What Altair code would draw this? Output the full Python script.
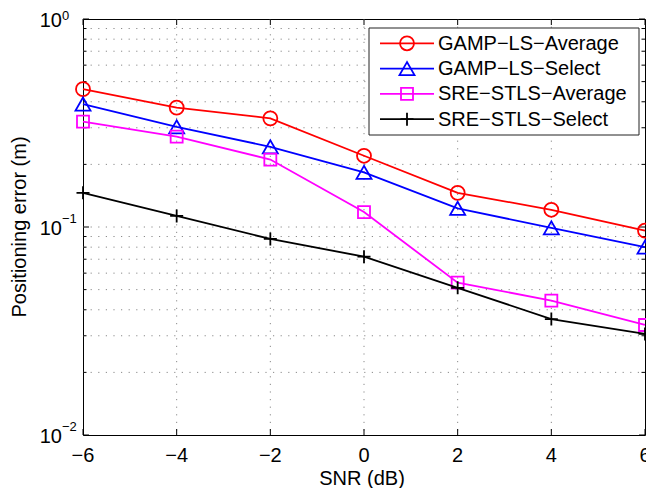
import altair as alt
import pandas as pd

# ---------------- data ----------------
snr = [-6, -4, -2, 0, 2, 4, 6]
series_names = ["GAMP−LS−Average", "GAMP−LS−Select", "SRE−STLS−Average", "SRE−STLS−Select"]
gamp_ls_average = [0.46, 0.375, 0.333, 0.220, 0.146, 0.121, 0.096]
gamp_ls_select = [0.39, 0.303, 0.243, 0.183, 0.123, 0.099, 0.080]
sre_stls_average = [0.321, 0.272, 0.211, 0.118, 0.054, 0.0443, 0.0338]
sre_stls_select = [0.146, 0.113, 0.0876, 0.072, 0.051, 0.0361, 0.0306]
x_ticks = [-6, -4, -2, 0, 2, 4, 6]
y_decades = [0.01, 0.1, 1.0]
y_exponents = ["−2", "−1", "0"]
y_minor = [k * 10.0 ** e for e in (-2, -1) for k in range(2, 10)]

series_values = [gamp_ls_average, gamp_ls_select, sre_stls_average, sre_stls_select]
colors = ["#ff0000", "#0000ff", "#ff00ff", "#000000"]
shapes = ["circle", "triangle-up", "square", "M-1,0H1M0,-1V1"]
sizes = [196, 225, 144, 169]

W, H = 562, 416
FONT = "Liberation Sans"
FS = 20
LW = 1.8

xs = alt.Scale(domain=[-6, 6], nice=False, zero=False)
ys = alt.Scale(type="log", domain=[0.01, 1], nice=False)

def X(f="x"):
    return alt.X(f"{f}:Q", scale=xs, axis=None)

def Y(f="y"):
    return alt.Y(f"{f}:Q", scale=ys, axis=None)

one = alt.Data(values=[{}])
layers = []

# grid
gx = pd.DataFrame({"x": [v for v in x_ticks if -6 < v < 6]})
gy = pd.DataFrame({"y": [0.1] + y_minor})
grid_style = dict(strokeDash=[1.2, 6.4], color="#8a8a8a", strokeWidth=1)
layers.append(alt.Chart(gx).mark_rule(**grid_style).encode(x=X(), y=alt.value(0), y2=alt.value(H)))
layers.append(alt.Chart(gy).mark_rule(**grid_style).encode(y=Y(), x=alt.value(0), x2=alt.value(W)))

# ticks (inside)
tx = pd.DataFrame({"x": x_ticks})
tmaj = pd.DataFrame({"y": y_decades})
tmin = pd.DataFrame({"y": y_minor})
tick_style = dict(color="#000", strokeWidth=1)
layers.append(alt.Chart(tx).mark_rule(**tick_style).encode(x=X(), y=alt.value(H), y2=alt.value(H - 6)))
layers.append(alt.Chart(tx).mark_rule(**tick_style).encode(x=X(), y=alt.value(0), y2=alt.value(6)))
layers.append(alt.Chart(tmaj).mark_rule(**tick_style).encode(y=Y(), x=alt.value(0), x2=alt.value(6)))
layers.append(alt.Chart(tmaj).mark_rule(**tick_style).encode(y=Y(), x=alt.value(W - 6), x2=alt.value(W)))
layers.append(alt.Chart(tmin).mark_rule(**tick_style).encode(y=Y(), x=alt.value(0), x2=alt.value(3.5)))
layers.append(alt.Chart(tmin).mark_rule(**tick_style).encode(y=Y(), x=alt.value(W - 3.5), x2=alt.value(W)))

# series
for name, vals, c, shp, sz in zip(series_names, series_values, colors, shapes, sizes):
    df = pd.DataFrame({"x": snr, "y": vals})
    layers.append(alt.Chart(df).mark_line(color=c, strokeWidth=LW).encode(x=X(), y=Y()))
    layers.append(alt.Chart(df).mark_point(shape=shp, size=sz, color=c, filled=False,
                                           strokeWidth=LW, opacity=1).encode(x=X(), y=Y()))

# legend
LX = 286
layers.append(alt.Chart(one).mark_rect(fill="white", stroke="#222", strokeWidth=1).encode(
    x=alt.value(LX), x2=alt.value(LX + 270), y=alt.value(9), y2=alt.value(116)))
for i, (name, c, shp, sz) in enumerate(zip(series_names, colors, shapes, sizes)):
    yy = 24.3 + 25.3 * i
    layers.append(alt.Chart(one).mark_rule(color=c, strokeWidth=LW).encode(
        x=alt.value(LX + 11), x2=alt.value(LX + 65), y=alt.value(yy)))
    layers.append(alt.Chart(one).mark_point(shape=shp, size=sz, color=c, filled=False,
                                            strokeWidth=LW, opacity=1).encode(
        x=alt.value(LX + 38), y=alt.value(yy)))
    layers.append(alt.Chart(one).mark_text(text=name, align="left", baseline="alphabetic",
                                           font=FONT, fontSize=FS, color="#000").encode(
        x=alt.value(LX + 69), y=alt.value(yy + 6.5)))

# y tick labels 10^k
ylab = pd.DataFrame({"y": y_decades, "e": y_exponents})
layers.append(alt.Chart(ylab).mark_text(text="10", align="right", baseline="alphabetic", dy=8,
                                        font=FONT, fontSize=FS, color="#000").encode(
    y=Y(), x=alt.value(-21)))
layers.append(alt.Chart(ylab).transform_filter("datum.y < 0.5").mark_text(
    align="left", baseline="alphabetic", dy=-4.5,
    font=FONT, fontSize=13, color="#000").encode(y=Y(), x=alt.value(-21), text="e:N"))
layers.append(alt.Chart(ylab).transform_filter("datum.y > 0.5").mark_text(
    align="left", baseline="alphabetic", dy=1,
    font=FONT, fontSize=13, color="#000").encode(y=Y(), x=alt.value(-21), text="e:N"))

# x tick labels
layers.append(alt.Chart(tx).mark_text(baseline="alphabetic", font=FONT, fontSize=FS, color="#000").encode(
    x=X(), y=alt.value(443), text=alt.Text("x:Q", format="d")))

# titles
layers.append(alt.Chart(one).mark_text(text="SNR (dB)", baseline="alphabetic", font=FONT,
                                       fontSize=FS, color="#000").encode(
    x=alt.value(279), y=alt.value(465.5)))
layers.append(alt.Chart(one).mark_text(text="Positioning error (m)", baseline="middle", angle=270,
                                       font=FONT, fontSize=FS, color="#000").encode(
    x=alt.value(-63), y=alt.value(208)))

chart = alt.layer(*layers).properties(
    width=W, height=H,
    autosize=alt.AutoSizeParams(type="none"),
    padding={"left": 75, "top": 11, "right": 1, "bottom": 53},
    background="white",
).configure_view(stroke="#000", strokeWidth=1)

chart.save("out.html", embed_options={"renderer": "svg", "actions": False})
